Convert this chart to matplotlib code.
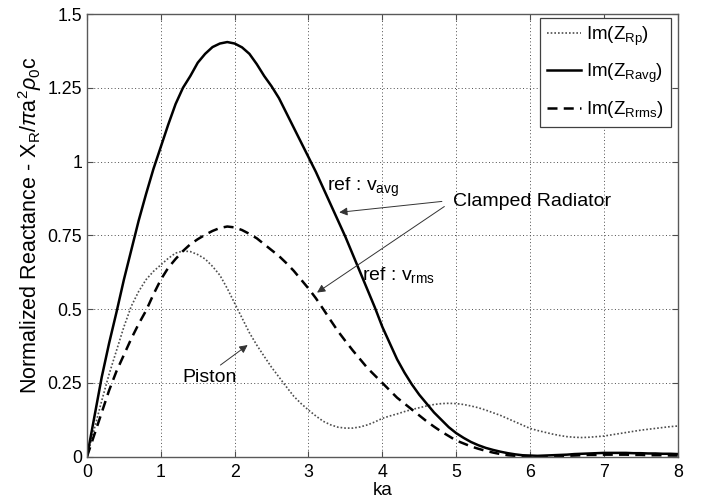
import numpy as np
import matplotlib
matplotlib.use("Agg")
import matplotlib.pyplot as plt

plt.rcParams['font.family'] = ['Liberation Sans', 'DejaVu Sans']
plt.rcParams['mathtext.fontset'] = 'custom'
plt.rcParams['mathtext.rm'] = 'Liberation Sans'
plt.rcParams['mathtext.it'] = 'Liberation Sans:italic'
plt.rcParams['mathtext.bf'] = 'Liberation Sans:bold'

# sample grid (ka) and values
ka = np.linspace(0, 8, 81)

z_piston = [0.0, 0.095, 0.19, 0.28, 0.36, 0.44, 0.51, 0.56, 0.60, 0.628,
            0.65, 0.672, 0.69, 0.697, 0.695, 0.685, 0.67, 0.645, 0.615, 0.57,
            0.52, 0.47, 0.42, 0.378, 0.34, 0.303, 0.27, 0.237, 0.205, 0.18,
            0.158, 0.138, 0.12, 0.108, 0.10, 0.097, 0.097, 0.101, 0.108, 0.118,
            0.13, 0.138, 0.145, 0.153, 0.16, 0.166, 0.172, 0.177, 0.18, 0.181,
            0.18, 0.177, 0.172, 0.166, 0.158, 0.149, 0.14, 0.129, 0.118, 0.107,
            0.096, 0.089, 0.083, 0.077, 0.072, 0.068, 0.066, 0.065, 0.066, 0.068,
            0.07, 0.074, 0.078, 0.082, 0.086, 0.09, 0.093, 0.096, 0.099, 0.102,
            0.104]

z_avg = [0.0, 0.135, 0.27, 0.385, 0.49, 0.60, 0.70, 0.80, 0.89, 0.975,
         1.05, 1.125, 1.195, 1.25, 1.29, 1.335, 1.365, 1.388, 1.40, 1.405,
         1.40, 1.387, 1.365, 1.33, 1.29, 1.255, 1.215, 1.165, 1.115, 1.065,
         1.015, 0.965, 0.91, 0.855, 0.80, 0.745, 0.685, 0.625, 0.565, 0.505,
         0.44, 0.385, 0.33, 0.285, 0.245, 0.21, 0.18, 0.15, 0.125, 0.10,
         0.08, 0.064, 0.05, 0.039, 0.03, 0.023, 0.017, 0.012, 0.008, 0.005,
         0.004, 0.003, 0.004, 0.005, 0.006, 0.007, 0.009, 0.010, 0.011, 0.012,
         0.013, 0.013, 0.013, 0.013, 0.012, 0.012, 0.011, 0.011, 0.010, 0.010,
         0.009]

z_rms = [0.0, 0.075, 0.15, 0.225, 0.29, 0.345, 0.40, 0.45, 0.495, 0.55,
         0.60, 0.64, 0.67, 0.697, 0.72, 0.737, 0.752, 0.765, 0.775, 0.78,
         0.777, 0.768, 0.755, 0.74, 0.72, 0.70, 0.68, 0.656, 0.63, 0.60,
         0.57, 0.537, 0.50, 0.462, 0.425, 0.392, 0.36, 0.33, 0.30, 0.275,
         0.25, 0.225, 0.20, 0.18, 0.16, 0.14, 0.12, 0.102, 0.085, 0.07,
         0.055, 0.045, 0.035, 0.027, 0.02, 0.014, 0.009, 0.005, 0.003, 0.001,
         0.0, 0.0, 0.0, 0.001, 0.002, 0.003, 0.004, 0.005, 0.006, 0.006,
         0.007, 0.007, 0.007, 0.007, 0.006, 0.006, 0.005, 0.005, 0.005, 0.004,
         0.004]

labels = [r'Im(Z$_{\mathrm{Rp}}$)', r'Im(Z$_{\mathrm{Ravg}}$)', r'Im(Z$_{\mathrm{Rrms}}$)']
xticks = [0, 1, 2, 3, 4, 5, 6, 7, 8]
yticks = [0, 0.25, 0.5, 0.75, 1, 1.25, 1.5]
ytick_labels = ['0', '0.25', '0.5', '0.75', '1', '1.25', '1.5']

fig = plt.figure(figsize=(7.06, 5.04), dpi=100)
ax = fig.add_axes([0.1232, 0.0938, 0.8367, 0.8784])

ax.plot(ka, z_piston, color='0.3', lw=1.2, ls=(0, (1, 1.2)), label=labels[0])
ax.plot(ka, z_avg, color='black', lw=1.8, ls='-', label=labels[1])
ax.plot(ka, z_rms, color='black', lw=1.8, ls=(0, (4, 2.5)), label=labels[2])

ax.set_xlim(0, 8)
ax.set_ylim(0, 1.5)
ax.set_xticks(xticks)
ax.set_yticks(yticks)
ax.set_yticklabels(ytick_labels)
ax.grid(True, color='0.3', ls=(0, (1, 2.5)), lw=0.7)
ax.tick_params(direction='in', top=True, right=True, length=4,
               labelsize=12.8, color='0.3')
ax.tick_params(axis='x', pad=5)
ax.tick_params(axis='y', pad=3.5)
for s in ax.spines.values():
    s.set_color('0.35')
    s.set_linewidth(1.0)

ax.set_xlabel('ka', fontsize=13.5, labelpad=1)
ax.set_ylabel(r'Normalized Reactance - X$_{\mathrm{R}}$/$\pi$a$^{2}$$\rho_{0}$c',
              fontsize=15.5)
ax.yaxis.set_label_coords(-0.073, 0.522)

leg = ax.legend(loc='upper right', bbox_to_anchor=(0.988, 0.991),
                borderaxespad=0, fontsize=13.5, handlelength=1.8,
                handletextpad=0.3, borderpad=0.35, labelspacing=0.75,
                fancybox=False, framealpha=1)
leg.get_frame().set_edgecolor('0.25')
leg.get_frame().set_linewidth(0.9)

# annotations
arrow = dict(arrowstyle='-|>', color='0.2', lw=0.7, mutation_scale=12)
ax.text(3.245, 0.911, r'ref : v$_{\mathrm{avg}}$', fontsize=14, va='center', ha='left')
ax.text(3.73, 0.616, r'ref : v$_{\mathrm{rms}}$', fontsize=14, va='center', ha='left')
ax.text(4.953, 0.866, 'Clamped Radiator', fontsize=14, va='center', ha='left')
ax.text(1.658, 0.270, 'Piston', fontsize=14, va='center', ha='center')
ax.annotate('', xy=(3.379, 0.827), xytext=(4.844, 0.866), arrowprops=arrow)
ax.annotate('', xy=(3.085, 0.551), xytext=(4.871, 0.853), arrowprops=arrow)
ax.annotate('', xy=(2.206, 0.384), xytext=(1.777, 0.305), arrowprops=arrow)

fig.savefig('out.png', dpi=100)
